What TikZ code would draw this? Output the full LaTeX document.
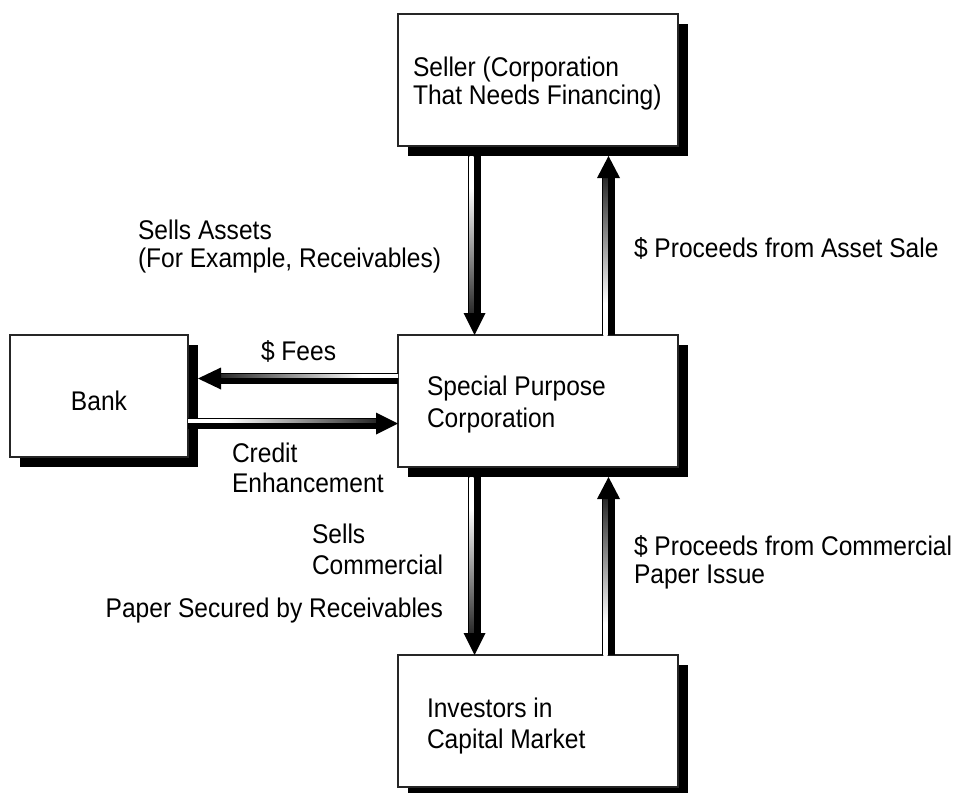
\documentclass[tikz,border=0pt]{standalone}
\usepackage{fontspec}
\setmainfont{Liberation Sans}[FakeStretch=0.91]
\usetikzlibrary{calc,shadows}
\pgfdeclarehorizontalshading{fadewb}{100bp}{color(0bp)=(white); color(35bp)=(white); color(82bp)=(black); color(100bp)=(black)}
\begin{document}
\begin{tikzpicture}[x=1pt,y=-1pt,
  box/.style={draw=black!85, line width=1.4pt, fill=white, rectangle, inner sep=0pt, outer sep=0pt,
    general shadow={fill=black, shadow xshift=10pt, shadow yshift=-10pt}},
  bigbox/.style={box, minimum width=280pt, minimum height=132pt},
  lbl/.style={anchor=base west, inner sep=0pt, outer sep=0pt, font=\fontsize{27}{29}\selectfont, text=black},
  fat/.style={fill=black},
  stripe/.style={shading=fadewb}
]
\useasboundingbox (0,0) rectangle (960,792);
\clip (0,0) rectangle (960,792);
\fill[white] (0,0) rectangle (960,792);

% boxes
\node[bigbox] (seller) at (538,80) {};
\node[bigbox] (spc) at (538,401) {};
\node[bigbox] (inv) at (538,721) {};
\node[box, minimum width=178pt, minimum height=122pt] (bank) at (99,396) {};

% helper coordinates
\coordinate (sellsh) at ($(seller.south)+(0,10)$);
\coordinate (spcsh) at ($(spc.south)+(0,10)$);
\coordinate (xd) at ($(spc.north west)+(76.5,0)$);
\coordinate (xu) at ($(spc.north west)+(210.5,0)$);
\coordinate (T1) at (xd |- sellsh);
\coordinate (P1) at (xd |- spc.north);
\coordinate (T2) at (xu |- spc.north);
\coordinate (P2) at (xu |- sellsh);
\coordinate (T3) at (xd |- spcsh);
\coordinate (P3) at (xd |- inv.north);
\coordinate (T4) at (xu |- inv.north);
\coordinate (P4) at (xu |- spcsh);
\coordinate (yf) at ($(spc.north west)+(0,43.5)$);
\coordinate (yc) at ($(spc.north west)+(0,88.5)$);
\coordinate (T5) at (yf);
\coordinate (P5) at ($(bank.east |- yf)+(10,0)$);
\coordinate (T6) at (bank.east |- yc);
\coordinate (P6) at (yc);

% down arrows
\foreach \t/\p in {T1/P1,T3/P3}{
  \fill[fat] ($(\t)+(-6.5,0)$) rectangle ($(\p)+(6.5,-20)$);
  \shade[stripe, shading angle=-90] ($(\t)+(-5.2,0)$) rectangle ($(\p)+(-1,-20)$);
  \fill[fat] ($(\p)+(-11,-22)$) -- ($(\p)+(11,-22)$) -- (\p) -- cycle;
}
% up arrows
\foreach \t/\p in {T2/P2,T4/P4}{
  \fill[fat] ($(\t)+(-6.5,0)$) rectangle ($(\p)+(6.5,20)$);
  \shade[stripe, shading angle=90] ($(\t)+(-5.2,0)$) rectangle ($(\p)+(-1,20)$);
  \fill[fat] ($(\p)+(-11.5,22)$) -- ($(\p)+(11.5,22)$) -- (\p) -- cycle;
}
% fees arrow (to the left)
\fill[fat] ($(T5)+(0,-5.5)$) rectangle ($(P5)+(21,5.5)$);
\shade[stripe, shading angle=180] ($(T5)+(0,-4.3)$) rectangle ($(P5)+(21,-0.6)$);
\fill[fat] ($(P5)+(23,-11)$) -- ($(P5)+(23,11)$) -- (P5) -- cycle;
% credit arrow (to the right)
\fill[fat] ($(T6)+(0,-5.5)$) rectangle ($(P6)+(-21,5.5)$);
\shade[stripe, shading angle=0] ($(T6)+(0,-4.3)$) rectangle ($(P6)+(-21,-0.6)$);
\fill[fat] ($(P6)+(-22,-11)$) -- ($(P6)+(-22,11)$) -- (P6) -- cycle;

% texts
\node[lbl] (s1) at (413,76) {Seller (Corporation};
\node[lbl] (s2) at (413,104) {That Needs Financing)};
\node[lbl] (a1) at (138,239) {Sells Assets};
\node[lbl] (a2) at (138,267) {(For Example, Receivables)};
\node[lbl] (pa) at (634,257) {\$ Proceeds from Asset Sale};
\node[lbl] (fees) at (261,360) {\$ Fees};
\node[lbl, anchor=base] (bk) at (99,410) {Bank};
\node[lbl] (c1) at (427,395) {Special Purpose};
\node[lbl] (c2) at (427,427) {Corporation};
\node[lbl] (ce1) at (232,462) {Credit};
\node[lbl] (ce2) at (232,492) {Enhancement};
\node[lbl] (sc1) at (312,543) {Sells};
\node[lbl] (sc2) at (312,574) {Commercial};
\node[lbl, anchor=base east] (sc3) at (443,617) {Paper Secured by Receivables};
\node[lbl] (pc1) at (634,555) {\$ Proceeds from Commercial};
\node[lbl] (pc2) at (634,583) {Paper Issue};
\node[lbl] (i1) at (427,717) {Investors in};
\node[lbl] (i2) at (427,748) {Capital Market};
\end{tikzpicture}
\end{document}
